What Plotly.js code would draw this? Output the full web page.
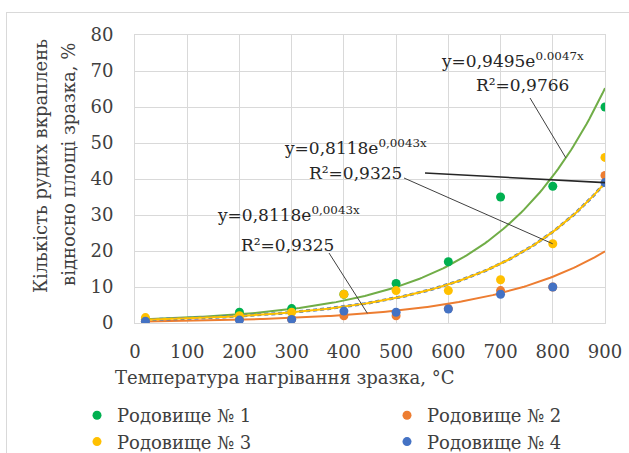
<!DOCTYPE html>
<html>
<head>
<meta charset="utf-8">
<script src="https://cdn.plot.ly/plotly-3.0.1.min.js"></script>
<style>
html,body{margin:0;padding:0;background:#fff;overflow:hidden;}
#chart{position:absolute;left:0;top:0;width:629px;height:453px;}
#frame{position:absolute;left:6px;top:12px;width:700px;height:500px;border:1px solid #d9d9d9;pointer-events:none;}
</style>
</head>
<body>
<div id="frame"></div>
<div id="chart"></div>
<script>
// Temperature of heating (°C)
var temps = [20, 200, 300, 400, 500, 600, 700, 800, 900];
// Share of ore inclusions, %
var dep1 = [1, 3, 4, 8, 11, 17, 35, 38, 60];
var dep2 = [0.5, 1, 1, 2, 2, 4, 9, 10, 41];
var dep3 = [1.5, 2, 3, 8, 9, 9, 12, 22, 46];
var dep4 = [0.5, 0.8, 1, 3.3, 3, 3.9, 8, 10, 39];
var seriesNames = ['Родовище № 1', 'Родовище № 2', 'Родовище № 3', 'Родовище № 4'];
var markerColors = ['#00B050', '#ED7D31', '#FFC000', '#4472C4'];
var trendColors = ['#70AD47', '#ED7D31', '#FFC000', '#4472C4'];
// exponential trend coefficients y = a*e^(b x) (labels + estimate for orange)
var trendA = [0.9495, 0.38, 0.8118, 0.8118];
var trendB = [0.0047, 0.0044, 0.0043, 0.0043];
var tickVals = [0, 100, 200, 300, 400, 500, 600, 700, 800, 900];
var eqLabels = ['y=0,9495e<sup>0.0047x</sup>', 'R²=0,9766',
                'y=0,8118e<sup>0,0043x</sup>', 'R²=0,9325',
                'y=0,8118e<sup>0,0043x</sup>', 'R²=0,9325'];

var FONT = 'DejaVu Serif';
var TXT = '#404040';
var datasets = [dep1, dep2, dep3, dep4];
var legendIds = ['legend', 'legend2', 'legend', 'legend2'];

function trend(i, x){ return trendA[i]*Math.exp(trendB[i]*x); }

var traces = [];
// trendlines
var tx = [];
for (var x = temps[0]; x <= temps[temps.length-1]; x += 5) tx.push(x);
var trendOrder = [0, 1, 3, 2];
trendOrder.forEach(function(i){
  traces.push({
    x: tx, y: tx.map(function(v){return trend(i, v);}),
    mode: 'lines', showlegend: false, hoverinfo: 'skip',
    line: {color: trendColors[i], width: i === 3 ? 3 : 2, dash: i === 3 ? '4px,3px' : 'solid'}
  });
});
// data points
datasets.forEach(function(d, i){
  traces.push({
    x: temps, y: d, mode: 'markers', name: seriesNames[i], legend: legendIds[i],
    marker: {color: markerColors[i], size: 9}
  });
});

function fx(px){ return (px - 135) / 470 * 900; }
function fy(py){ return (323 - py) / 288 * 80; }
function px2paperX(px){ return (px - 135) / 470; }
function px2paperY(py){ return (323 - py) / 288; }

var annFont = {family: FONT, size: 17, color: '#262626'};
var labelPos = [[512, 60], [522, 85], [355, 147], [355, 173], [288, 214], [287, 245]];
var annotations = labelPos.map(function(p, k){
  return {x: fx(p[0]), y: fy(p[1]), xref: 'x', yref: 'y', text: eqLabels[k],
          showarrow: false, font: annFont, xanchor: 'center', yanchor: 'middle'};
});
annotations.push({xref: 'paper', yref: 'paper', x: px2paperX(40), y: px2paperY(166),
  text: 'Кількість рудих вкраплень', textangle: -90, showarrow: false,
  font: {family: FONT, size: 18, color: TXT}, xanchor: 'center', yanchor: 'middle'});
annotations.push({xref: 'paper', yref: 'paper', x: px2paperX(68), y: px2paperY(165),
  text: 'відносно площі зразка, %', textangle: -90, showarrow: false,
  font: {family: FONT, size: 18, color: TXT}, xanchor: 'center', yanchor: 'middle'});
annotations.push({xref: 'paper', yref: 'paper', x: px2paperX(285), y: px2paperY(377),
  text: 'Температура нагрівання зразка, °C', showarrow: false,
  font: {family: FONT, size: 18, color: TXT}, xanchor: 'center', yanchor: 'middle'});

// leader lines from labels to curves / points
var leaders = [
  {x0: fx(530), y0: fy(98), x1: 825, y1: trend(0, 825), w: 1, c: '#404040'},
  {x0: fx(404), y0: fy(178), x1: temps[7], y1: dep3[7], w: 1, c: '#404040'},
  {x0: fx(425), y0: fy(173), x1: temps[8], y1: dep4[8], w: 1.6, c: '#262626'},
  {x0: fx(329), y0: fy(253), x1: 445, y1: trend(1, 445), w: 1, c: '#404040'}
];
var shapes = leaders.map(function(l){
  return {type: 'line', xref: 'x', yref: 'y', x0: l.x0, y0: l.y0, x1: l.x1, y1: l.y1,
          line: {color: l.c, width: l.w}};
});

function legendAt(px, py){
  return {orientation: 'v', x: px2paperX(px), xanchor: 'left', y: px2paperY(py), yanchor: 'top',
          bgcolor: 'rgba(0,0,0,0)', itemwidth: 30, tracegroupgap: 0,
          font: {family: FONT, size: 18, color: TXT}, itemclick: false, itemdoubleclick: false};
}

var layout = {
  width: 629, height: 453,
  margin: {l: 135, r: 24, t: 35, b: 130, autoexpand: false},
  paper_bgcolor: 'rgba(0,0,0,0)', plot_bgcolor: '#fff',
  showlegend: true,
  xaxis: {range: [0, 900], tickvals: tickVals, showgrid: true, gridcolor: '#d9d9d9',
          showline: true, linecolor: '#d9d9d9', mirror: true, zeroline: false,
          ticks: '', ticklabelstandoff: 12, fixedrange: true, automargin: false,
          tickfont: {family: FONT, size: 18, color: TXT}},
  yaxis: {range: [0, 80], dtick: 10, showgrid: true, gridcolor: '#d9d9d9',
          showline: true, linecolor: '#d9d9d9', mirror: true, zeroline: false,
          ticks: '', ticklabelstandoff: 17, fixedrange: true, automargin: false,
          tickfont: {family: FONT, size: 18, color: TXT}},
  legend: legendAt(77, 397),
  legend2: legendAt(387, 397),
  annotations: annotations,
  shapes: shapes
};

Plotly.newPlot('chart', traces, layout, {displayModeBar: false, staticPlot: true});
</script>
</body>
</html>
